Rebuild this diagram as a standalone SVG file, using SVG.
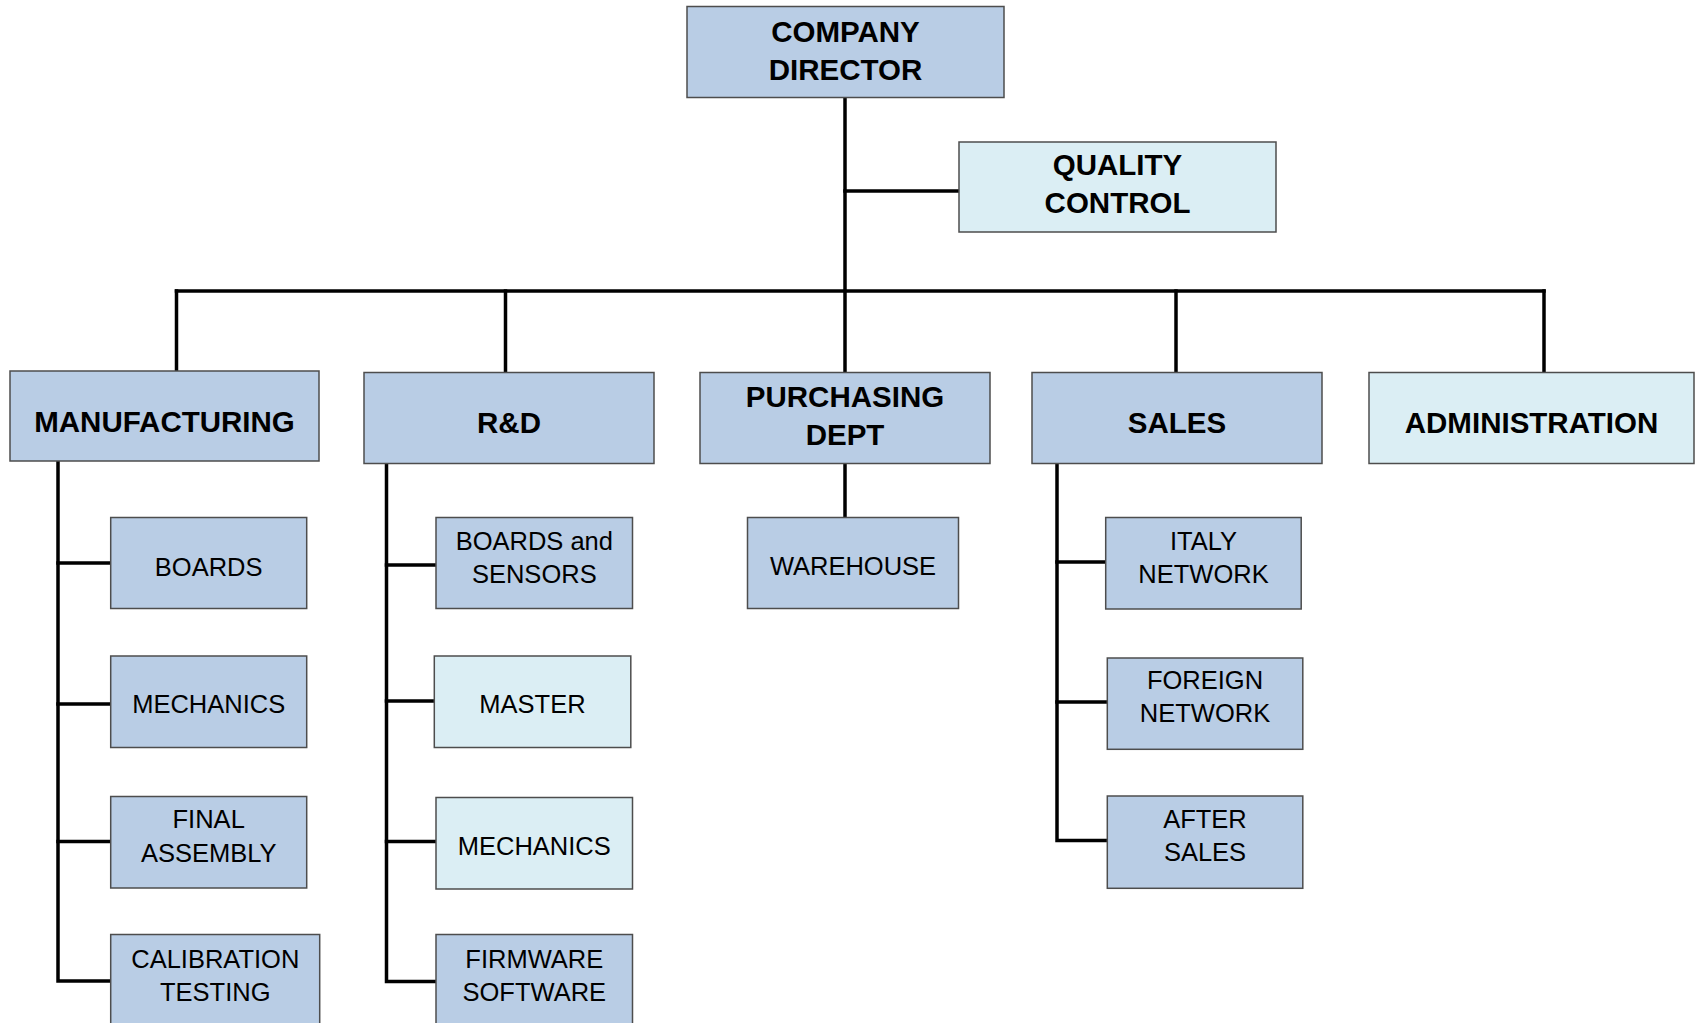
<svg xmlns="http://www.w3.org/2000/svg" width="1698" height="1023" viewBox="0 0 1698 1023">
<style>
.bg{fill:#ffffff}
.box{stroke:#4d4d4d;stroke-width:1.5}
.dark{fill:#b9cde5}
.light{fill:#dbeef4}
.h{font-family:"Liberation Sans",Arial,sans-serif;font-weight:bold;font-size:29.5px;fill:#000;text-anchor:middle}
.s{font-family:"Liberation Sans",Arial,sans-serif;font-size:25.5px;fill:#000;text-anchor:middle}
.c{fill:none;stroke:#000;stroke-width:3.5;stroke-linecap:square;stroke-linejoin:miter}
</style>
<rect class="bg" x="0" y="0" width="1698" height="1023"/>
<g id="connectors">
<path class="c" d="M845 98 V372"/>
<path class="c" d="M845 191 H958"/>
<path class="c" d="M176.5 291 H1544"/>
<path class="c" d="M176.5 291 V370"/>
<path class="c" d="M505.5 291 V372"/>
<path class="c" d="M1176 291 V372"/>
<path class="c" d="M1544 291 V372"/>
<path class="c" d="M845 464 V517"/>
<path class="c" d="M58 462 V981 H110"/>
<path class="c" d="M58 563 H110 M58 704 H110 M58 841.5 H110"/>
<path class="c" d="M386.5 464 V981.5 H435"/>
<path class="c" d="M386.5 565 H435 M386.5 701 H433 M386.5 841.5 H435"/>
<path class="c" d="M1057 464 V840.5 H1106"/>
<path class="c" d="M1057 562 H1105 M1057 702 H1106"/>
</g>
<g id="director"><rect class="box dark" x="687" y="6.5" width="317" height="91"/><text class="h" x="845.5" y="42">COMPANY</text><text class="h" x="845.5" y="80">DIRECTOR</text></g>
<g id="quality"><rect class="box light" x="959" y="142" width="317" height="90"/><text class="h" x="1117.5" y="175">QUALITY</text><text class="h" x="1117.5" y="213">CONTROL</text></g>
<g id="manufacturing"><rect class="box dark" x="10" y="371" width="309" height="90"/><text class="h" x="164.5" y="432">MANUFACTURING</text></g>
<g id="rnd"><rect class="box dark" x="364" y="372.5" width="290" height="91"/><text class="h" x="509" y="433">R&amp;D</text></g>
<g id="purchasing"><rect class="box dark" x="700" y="372.5" width="290" height="91"/><text class="h" x="845" y="407">PURCHASING</text><text class="h" x="845" y="445">DEPT</text></g>
<g id="sales"><rect class="box dark" x="1032" y="372.5" width="290" height="91"/><text class="h" x="1177" y="433">SALES</text></g>
<g id="administration"><rect class="box light" x="1369" y="372.5" width="325" height="91"/><text class="h" x="1531.5" y="433">ADMINISTRATION</text></g>
<g id="mfg-boards"><rect class="box dark" x="110.7" y="517.5" width="196" height="91"/><text class="s" x="208.7" y="575.5">BOARDS</text></g>
<g id="mfg-mechanics"><rect class="box dark" x="110.7" y="656" width="196" height="91.5"/><text class="s" x="208.7" y="713">MECHANICS</text></g>
<g id="mfg-final"><rect class="box dark" x="110.7" y="796.5" width="196" height="91.5"/><text class="s" x="208.7" y="828">FINAL</text><text class="s" x="208.7" y="861.5">ASSEMBLY</text></g>
<g id="mfg-calibration"><rect class="box dark" x="110.7" y="934.5" width="209" height="100"/><text class="s" x="215.3" y="967.5">CALIBRATION</text><text class="s" x="215.3" y="1001">TESTING</text></g>
<g id="rnd-boards"><rect class="box dark" x="436" y="517.5" width="196.5" height="91"/><text class="s" x="534.3" y="550">BOARDS and</text><text class="s" x="534.3" y="583">SENSORS</text></g>
<g id="rnd-master"><rect class="box light" x="434.3" y="656" width="196.5" height="91.5"/><text class="s" x="532.5" y="713">MASTER</text></g>
<g id="rnd-mechanics"><rect class="box light" x="436" y="797.5" width="196.5" height="91.5"/><text class="s" x="534.3" y="854.5">MECHANICS</text></g>
<g id="rnd-firmware"><rect class="box dark" x="436" y="934.5" width="196.5" height="100"/><text class="s" x="534.3" y="967.5">FIRMWARE</text><text class="s" x="534.3" y="1001">SOFTWARE</text></g>
<g id="warehouse"><rect class="box dark" x="747.5" y="517.5" width="211" height="91"/><text class="s" x="853" y="575">WAREHOUSE</text></g>
<g id="sales-italy"><rect class="box dark" x="1105.7" y="517.5" width="195.5" height="91.5"/><text class="s" x="1203.5" y="550">ITALY</text><text class="s" x="1203.5" y="583">NETWORK</text></g>
<g id="sales-foreign"><rect class="box dark" x="1107.3" y="658" width="195.5" height="91.3"/><text class="s" x="1205" y="689">FOREIGN</text><text class="s" x="1205" y="721.5">NETWORK</text></g>
<g id="sales-after"><rect class="box dark" x="1107.3" y="796" width="195.5" height="92.3"/><text class="s" x="1205" y="828">AFTER</text><text class="s" x="1205" y="861">SALES</text></g>
</svg>
